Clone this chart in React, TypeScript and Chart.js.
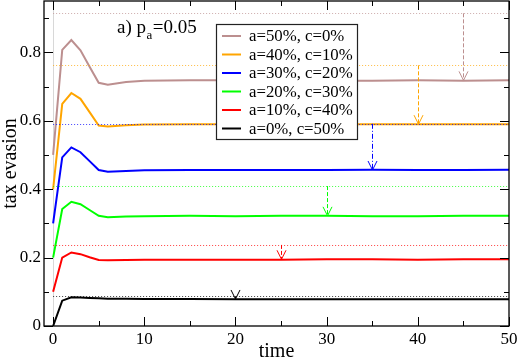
import React, { useEffect, useRef } from 'react';
import { Chart, registerables } from 'chart.js';

Chart.register(...registerables);

// ---- data ----
const times = [0, 1, 2, 3, 4, 5, 6, 8, 10, 15, 20, 25, 30, 35, 40, 45, 50];
const seriesLabels = ['a=50%, c=0%', 'a=40%, c=10%', 'a=30%, c=20%', 'a=20%, c=30%', 'a=10%, c=40%', 'a=0%, c=50%'];
const brown = [0.5, 0.807, 0.836, 0.806, 0.758, 0.711, 0.705, 0.713, 0.717, 0.718, 0.718, 0.718, 0.717, 0.717, 0.718, 0.717, 0.718];
const orange = [0.4, 0.649, 0.681, 0.664, 0.625, 0.586, 0.583, 0.587, 0.589, 0.59, 0.59, 0.59, 0.59, 0.59, 0.59, 0.59, 0.59];
const blue = [0.3, 0.493, 0.522, 0.508, 0.482, 0.456, 0.451, 0.453, 0.455, 0.456, 0.456, 0.456, 0.456, 0.457, 0.456, 0.456, 0.457];
const green = [0.2, 0.342, 0.363, 0.356, 0.339, 0.322, 0.318, 0.32, 0.321, 0.322, 0.321, 0.322, 0.322, 0.321, 0.321, 0.322, 0.322];
const red = [0.1, 0.2, 0.215, 0.21, 0.201, 0.193, 0.192, 0.193, 0.194, 0.194, 0.194, 0.194, 0.195, 0.195, 0.194, 0.195, 0.195];
const black = [0.0, 0.074, 0.084, 0.083, 0.082, 0.081, 0.08, 0.08, 0.079, 0.079, 0.078, 0.078, 0.078, 0.078, 0.078, 0.078, 0.078];
const seriesValues = [brown, orange, blue, green, red, black];
const seriesColors = ['#bc8f8f', '#ffa500', '#0000ff', '#00ff00', '#ff0000', '#000000'];

// dotted reference levels and arrows
const refLevels = [0.914, 0.762, 0.591, 0.409, 0.237, 0.087];
const arrowTimes = [45, 40, 35, 30, 25, 20];
const arrowEnds = [0.718, 0.59, 0.456, 0.322, 0.195, 0.079];

// ticks
const xTicks = [0, 10, 20, 30, 40, 50];
const xTickLabels = ['0', '10', '20', '30', '40', '50'];
const xMinor = [5, 15, 25, 35, 45];
const yTicks = [0, 0.2, 0.4, 0.6, 0.8];
const yTickLabels = ['0', '0.2', '0.4', '0.6', '0.8'];
const yMinor = [0.1, 0.3, 0.5, 0.7, 0.9];

const SERIF = '"Liberation Serif", "Times New Roman", serif';

const decorPlugin = {
  id: 'decor',
  beforeDatasetsDraw(chart: any) {
    const { ctx, chartArea: ca, scales } = chart;
    const xs = scales.x;
    ctx.save();
    ctx.strokeStyle = '#d8d8d8';
    ctx.lineWidth = 1;
    const x0 = Math.round(xs.getPixelForValue(0)) + 0.5;
    ctx.beginPath();
    ctx.moveTo(x0, ca.top);
    ctx.lineTo(x0, ca.bottom);
    ctx.stroke();
    ctx.restore();
  },
  afterDatasetsDraw(chart: any) {
    const { ctx, scales } = chart;
    const xs = scales.x;
    const ys = scales.y;
    ctx.save();
    // dotted reference lines
    refLevels.forEach((lv, i) => {
      const y = Math.round(ys.getPixelForValue(lv)) + 0.5;
      ctx.strokeStyle = seriesColors[i];
      ctx.globalAlpha = 0.75;
      ctx.lineWidth = 1;
      ctx.setLineDash([1, 2]);
      ctx.beginPath();
      ctx.moveTo(xs.getPixelForValue(0), y);
      ctx.lineTo(xs.getPixelForValue(50), y);
      ctx.stroke();
    });
    ctx.globalAlpha = 1;
    // arrows
    arrowTimes.forEach((t, i) => {
      const x = Math.round(xs.getPixelForValue(t)) + 0.5;
      const y1 = ys.getPixelForValue(refLevels[i]);
      const y2 = ys.getPixelForValue(arrowEnds[i]);
      ctx.strokeStyle = seriesColors[i];
      ctx.lineWidth = 1;
      ctx.setLineDash(i === 2 ? [5, 2, 1, 2] : [4, 2]);
      ctx.beginPath();
      ctx.moveTo(x, y1);
      ctx.lineTo(x, y2);
      ctx.stroke();
      ctx.setLineDash([]);
      ctx.beginPath();
      ctx.moveTo(x - 4.5, y2 - 9);
      ctx.lineTo(x, y2);
      ctx.lineTo(x + 4.5, y2 - 9);
      ctx.stroke();
    });
    ctx.restore();
  },
  afterDraw(chart: any) {
    const { ctx, chartArea: ca, scales } = chart;
    const xs = scales.x;
    const ys = scales.y;
    ctx.save();
    ctx.setLineDash([]);
    // frame
    ctx.strokeStyle = '#000';
    ctx.lineWidth = 1.3;
    ctx.strokeRect(ca.left, ca.top, ca.right - ca.left, ca.bottom - ca.top);
    // ticks (inward on all sides)
    const drawX = (vals: number[], len: number) => {
      vals.forEach((v) => {
        const x = Math.round(xs.getPixelForValue(v)) + 0.5;
        ctx.beginPath();
        ctx.moveTo(x, ca.bottom);
        ctx.lineTo(x, ca.bottom - len);
        ctx.moveTo(x, ca.top);
        ctx.lineTo(x, ca.top + len);
        ctx.stroke();
      });
    };
    const drawY = (vals: number[], len: number) => {
      vals.forEach((v) => {
        const y = Math.round(ys.getPixelForValue(v)) + 0.5;
        ctx.beginPath();
        ctx.moveTo(ca.left, y);
        ctx.lineTo(ca.left + len, y);
        ctx.moveTo(ca.right, y);
        ctx.lineTo(ca.right - len, y);
        ctx.stroke();
      });
    };
    ctx.lineWidth = 1;
    drawX(xTicks, 9);
    drawX(xMinor, 5);
    drawY(yTicks, 9);
    drawY(yMinor, 5);

    // title a) p_a=0.05
    const tx = ca.left + 73;
    const ty = ca.top + 32;
    ctx.fillStyle = '#000';
    ctx.textBaseline = 'alphabetic';
    ctx.textAlign = 'left';
    ctx.font = `19px ${SERIF}`;
    const part1 = 'a) p';
    ctx.fillText(part1, tx, ty);
    let cx = tx + ctx.measureText(part1).width;
    ctx.font = `13px ${SERIF}`;
    ctx.fillText('a', cx + 0.5, ty + 6);
    cx += ctx.measureText('a').width + 1;
    ctx.font = `19px ${SERIF}`;
    ctx.fillText('=0.05', cx, ty);

    // legend
    const lx = ca.left + 172;
    const ly = ca.top + 23;
    const lw = 141;
    const lh = 115;
    ctx.fillStyle = '#fff';
    ctx.fillRect(lx, ly, lw, lh);
    ctx.strokeStyle = '#222';
    ctx.lineWidth = 1.2;
    ctx.strokeRect(lx + 0.5, ly + 0.5, lw, lh);
    ctx.font = `16.8px ${SERIF}`;
    ctx.textBaseline = 'middle';
    seriesLabels.forEach((lab, i) => {
      const ry = ly + 12 + i * 18.5;
      ctx.strokeStyle = seriesColors[i];
      ctx.lineWidth = 2;
      ctx.beginPath();
      ctx.moveTo(lx + 6, ry);
      ctx.lineTo(lx + 25, ry);
      ctx.stroke();
      ctx.fillStyle = '#000';
      ctx.fillText(lab, lx + 33, ry + 1);
    });
    ctx.restore();
  },
};

export default function App() {
  const ref = useRef<HTMLCanvasElement>(null);
  useEffect(() => {
    const datasets = seriesValues.map((vals, i) => ({
      label: seriesLabels[i],
      data: times.map((t, j) => ({ x: t, y: vals[j] })),
      borderColor: seriesColors[i],
      backgroundColor: seriesColors[i],
      borderWidth: 2,
      pointRadius: 0,
      tension: 0,
      fill: false,
    }));
    const chart = new Chart(ref.current as HTMLCanvasElement, {
      type: 'line',
      data: { datasets },
      plugins: [decorPlugin],
      options: {
        animation: false,
        responsive: false,
        devicePixelRatio: 1,
        layout: { padding: { top: 1, right: 9, bottom: 0, left: 0 } },
        plugins: { legend: { display: false }, tooltip: { enabled: false }, title: { display: false } },
        scales: {
          x: {
            type: 'linear',
            min: -1,
            max: 50,
            grid: { display: false, drawTicks: false },
            border: { display: false },
            afterBuildTicks: (s: any) => {
              s.ticks = xTicks.map((v) => ({ value: v }));
            },
            afterFit: (s: any) => {
              s.height = 36;
              s.paddingLeft = 0;
              s.paddingRight = 0;
              s.paddingTop = 0;
              s.paddingBottom = 0;
            },
            ticks: {
              padding: 3,
              color: '#000',
              font: { family: 'Liberation Serif', size: 17 },
              maxRotation: 0,
              callback: (_v: any, idx: number) => xTickLabels[idx],
            },
            title: {
              display: true,
              text: 'time',
              color: '#000',
              font: { family: 'Liberation Serif', size: 20 },
              padding: { top: 0, bottom: -2 },
            },
          },
          y: {
            type: 'linear',
            min: 0,
            max: 0.95,
            grid: { display: false, drawTicks: false },
            border: { display: false },
            afterBuildTicks: (s: any) => {
              s.ticks = yTicks.map((v) => ({ value: v }));
            },
            afterFit: (s: any) => {
              s.width = 44;
              s.paddingLeft = 0;
              s.paddingRight = 0;
              s.paddingTop = 0;
              s.paddingBottom = 0;
            },
            ticks: {
              padding: 3,
              color: '#000',
              font: { family: 'Liberation Serif', size: 17 },
              callback: (_v: any, idx: number) => yTickLabels[idx],
            },
            title: {
              display: true,
              text: 'tax evasion',
              color: '#000',
              font: { family: 'Liberation Serif', size: 20 },
              padding: { top: -1, bottom: 0 },
            },
          },
        },
      },
    } as any);
    return () => chart.destroy();
  }, []);
  return (
    <div style={{ position: 'absolute', left: 0, top: 0, width: 518, height: 362, background: '#fff' }}>
      <canvas ref={ref} width={518} height={362} style={{ display: 'block' }} />
    </div>
  );
}
